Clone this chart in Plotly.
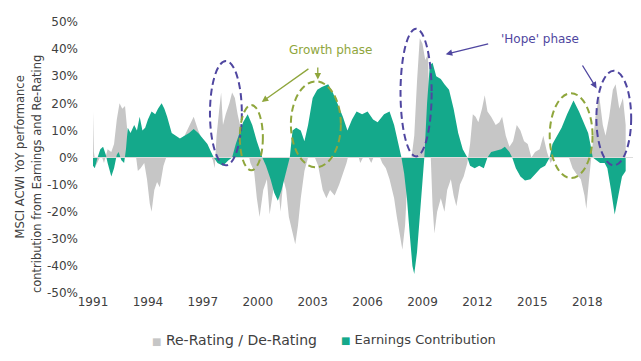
import plotly.graph_objects as go

# ---------------- data ----------------
earn_years = [1991.00, 1991.10, 1991.25, 1991.40, 1991.55, 1991.70, 1991.80, 1992.00, 1992.15, 1992.30,
              1992.40, 1992.55, 1992.70, 1992.80, 1992.90, 1993.05, 1993.25, 1993.40, 1993.55, 1993.70,
              1993.85, 1994.00, 1994.20, 1994.40, 1994.55, 1994.75, 1994.90, 1995.05, 1995.30, 1995.50,
              1995.75, 1996.00, 1996.25, 1996.50, 1996.75, 1997.00, 1997.25, 1997.45, 1997.60, 1997.80,
              1998.10, 1998.40, 1998.60, 1998.80, 1999.00, 1999.20, 1999.45, 1999.70, 1999.95, 2000.25,
              2000.45, 2000.70, 2000.90, 2001.10, 2001.30, 2001.55, 2001.75, 2001.90, 2002.10, 2002.35,
              2002.55, 2002.75, 2003.00, 2003.25, 2003.50, 2003.85, 2004.10, 2004.35, 2004.65, 2004.90,
              2005.15, 2005.40, 2005.70, 2006.00, 2006.30, 2006.55, 2006.90, 2007.20, 2007.45, 2007.65,
              2007.85, 2008.00, 2008.15, 2008.30, 2008.45, 2008.55, 2008.70, 2008.85, 2009.00, 2009.10,
              2009.25, 2009.40, 2009.55, 2009.75, 2010.00, 2010.20, 2010.45, 2010.70, 2010.95, 2011.20,
              2011.45, 2011.60, 2011.85, 2012.10, 2012.35, 2012.55, 2012.75, 2013.00, 2013.30, 2013.50,
              2013.75, 2013.90, 2014.10, 2014.35, 2014.60, 2014.90, 2015.20, 2015.45, 2015.70, 2015.95,
              2016.10, 2016.35, 2016.60, 2016.90, 2017.25, 2017.55, 2017.80, 2018.05, 2018.20, 2018.30,
              2018.50, 2018.70, 2018.95, 2019.10, 2019.30, 2019.50, 2019.70, 2019.90, 2020.10]
earn_vals = [-3, -4, 0, 3, 4, 1, -2, -7, -4, 1,
             2, -1, -2, 3, 11, 9, 12, 10, 15, 10,
             11, 14, 17, 16, 18, 20, 18, 15, 9, 8,
             7, 8, 9, 10.5, 9, 7, 5, 2, 0, -2,
             -3, -1, 0, 5, 9, 13, 16, 12, 6, 0,
             -3, -8, -13, -16, -12, -5, 0, 10, 11, 10,
             6, 12, 22, 25, 26, 27, 24, 20, 15, 10,
             14, 17, 16, 17, 14, 13, 16, 17, 12, 6,
             0, -6, -15, -28, -40, -43, -35, -22, -10, 0,
             20, 34, 35, 30, 29, 27, 25, 18, 9, 3,
             0, -3, -4, -3, -4, 0, 2, 2.5, 3, 4,
             2, 0, -4, -7, -8.5, -8, -6, -4, -3, 0,
             5, 8, 11, 16, 21, 17, 13, 9, 4, 0,
             -1, -2, -2, -4, -12, -21, -14, -7, -5]

rerate_years = [1991.00, 1991.05, 1991.15, 1991.30, 1991.45, 1991.60, 1991.80, 1992.00, 1992.15, 1992.30,
                1992.45, 1992.60, 1992.75, 1992.90, 1993.10, 1993.30, 1993.45, 1993.60, 1993.80, 1993.95,
                1994.10, 1994.20, 1994.35, 1994.50, 1994.65, 1994.85, 1995.00, 1995.30, 1995.60, 1996.00,
                1996.30, 1996.50, 1996.75, 1997.00, 1997.30, 1997.55, 1997.65, 1997.75, 1997.90, 1998.00,
                1998.10, 1998.25, 1998.45, 1998.60, 1998.75, 1998.90, 1999.10, 1999.40, 1999.60, 1999.80,
                1999.95, 2000.10, 2000.30, 2000.50, 2000.65, 2000.85, 2001.10, 2001.25, 2001.40, 2001.55,
                2001.70, 2001.90, 2002.05, 2002.20, 2002.35, 2002.55, 2002.75, 2003.00, 2003.30, 2003.55,
                2003.75, 2003.95, 2004.20, 2004.45, 2004.65, 2004.85, 2005.10, 2005.40, 2005.60, 2005.90,
                2006.20, 2006.50, 2006.80, 2007.00, 2007.20, 2007.45, 2007.60, 2007.75, 2007.90, 2008.05,
                2008.20, 2008.40, 2008.55, 2008.70, 2008.85, 2009.00, 2009.15, 2009.30, 2009.40, 2009.55,
                2009.65, 2009.80, 2010.00, 2010.20, 2010.35, 2010.55, 2010.70, 2010.85, 2011.05, 2011.25,
                2011.45, 2011.60, 2011.75, 2011.90, 2012.05, 2012.25, 2012.40, 2012.55, 2012.75, 2013.00,
                2013.20, 2013.35, 2013.55, 2013.75, 2013.95, 2014.15, 2014.35, 2014.55, 2014.75, 2014.95,
                2015.15, 2015.40, 2015.60, 2015.80, 2016.00, 2016.30, 2016.60, 2016.90, 2017.20, 2017.40,
                2017.65, 2017.85, 2017.95, 2018.10, 2018.25, 2018.45, 2018.65, 2018.85, 2019.00, 2019.20,
                2019.40, 2019.55, 2019.75, 2019.95, 2020.10]
rerate_vals = [17, 2, -3, -1, 1, -2, 3, 2, 5, 14,
               20, 18, 19, 8, 6, 3, -5, -4, -2, -8,
               -17, -20, -12, -9, -11, -3, 0, 5, 6, 8,
               12, 15, 10, 6, 3, -1, -4, 8, 18, 24,
               12, 16, 20, 24, 22, 16, 10, 4, -2, -5,
               -15, -22, -12, -8, -21, -12, -10, -20, -8, -12,
               -22, -28, -32, -25, -15, -5, 0, 2, -3, -12,
               -15, -12, -14, -10, -6, -2, 5, 3, -2, 2,
               -2, 3, -2, -4, -8, -15, -22, -28, -34, -25,
               -5, 0, 8, 28, 44, 42, 36, 38, 10, -18,
               -28, -20, -15, -20, -12, -8, -14, -18, -10, -7,
               -2, 5, 16, 15, 13, 18, 23, 17, 15, 12,
               13, 15, 8, 4, 6, 12, 10, 6, 5, 0,
               2, 3, 8, 2, -2, 2, 4, 2, -4, -6,
               -8, -14, -19, -8, 3, 15, 23, 12, 8, 15,
               25, 27, 18, 22, 12]

y_ticks = [-50, -40, -30, -20, -10, 0, 10, 20, 30, 40, 50]
x_ticks = [1991, 1994, 1997, 2000, 2003, 2006, 2009, 2012, 2015, 2018]

series_names = ["Re-Rating / De-Rating", "Earnings Contribution"]

# annotation geometry (x0, x1, y0, y1) in data units
purple_ellipses = [(1997.39, 1999.13, -2.9, 35.6), (2007.8, 2009.5, 0.4, 47.5), (2018.5, 2020.4, -2.9, 32.0)]
green_ellipses = [(1999.02, 2000.28, -4.7, 19.4), (2001.81, 2004.54, -3.6, 28.1), (2015.95, 2018.29, -7.6, 23.7)]

GREY = "#c6c6c6"
TEAL = "#14a98b"
PURPLE = "#4f46a0"
OLIVE = "#8fa63c"
TXT = "#404040"
FONT = "DejaVu Sans"
DASH = "7px,4px"

fig = go.Figure()
fig.add_trace(go.Scatter(x=rerate_years, y=rerate_vals, fill="tozeroy", mode="lines",
                         line=dict(width=0, color=GREY), fillcolor=GREY, name=series_names[0],
                         showlegend=False, hoverinfo="skip"))
fig.add_trace(go.Scatter(x=earn_years, y=earn_vals, fill="tozeroy", mode="lines",
                         line=dict(width=0, color=TEAL), fillcolor=TEAL, name=series_names[1],
                         showlegend=False, hoverinfo="skip"))

shapes = [dict(type="line", xref="paper", x0=0, x1=1, yref="y", y0=0, y1=0,
               line=dict(color="#dcdcdc", width=1), layer="above")]
for (x0, x1, y0, y1) in purple_ellipses:
    shapes.append(dict(type="circle", xref="x", yref="y", x0=x0, x1=x1, y0=y0, y1=y1,
                       line=dict(color=PURPLE, width=2, dash=DASH), layer="above"))
for (x0, x1, y0, y1) in green_ellipses:
    shapes.append(dict(type="circle", xref="x", yref="y", x0=x0, x1=x1, y0=y0, y1=y1,
                       line=dict(color=OLIVE, width=2, dash=DASH), layer="above"))

annotations = [
    dict(text="Growth phase", x=2003.99, y=39.6, xref="x", yref="y", showarrow=False,
         font=dict(family=FONT, size=12, color=OLIVE)),
    dict(text="'Hope' phase", x=2015.4, y=43.9, xref="x", yref="y", showarrow=False,
         font=dict(family=FONT, size=12, color=PURPLE)),
    dict(text="", x=2000.22, y=20.5, ax=2002.85, ay=33.1, xref="x", yref="y", axref="x", ayref="y",
         showarrow=True, arrowhead=2, arrowsize=1, arrowwidth=1.3, arrowcolor=OLIVE),
    dict(text="", x=2003.28, y=28.8, ax=2003.28, ay=33.8, xref="x", yref="y", axref="x", ayref="y",
         showarrow=True, arrowhead=2, arrowsize=1, arrowwidth=1.3, arrowcolor=OLIVE),
    dict(text="", x=2010.27, y=38.1, ax=2012.67, ay=42.1, xref="x", yref="y", axref="x", ayref="y",
         showarrow=True, arrowhead=2, arrowsize=1, arrowwidth=1.3, arrowcolor=PURPLE),
    dict(text="", x=2018.51, y=25.5, ax=2017.69, ay=34.5, xref="x", yref="y", axref="x", ayref="y",
         showarrow=True, arrowhead=2, arrowsize=1, arrowwidth=1.3, arrowcolor=PURPLE),
    dict(text="MSCI ACWI YoY performance", textangle=-90, xref="paper", yref="paper",
         x=-0.137, y=0.5, xanchor="center", yanchor="middle", showarrow=False,
         font=dict(family=FONT, size=11.5, color=TXT)),
    dict(text="contribution from Earnings and Re-Rating", textangle=-90, xref="paper", yref="paper",
         x=-0.105, y=0.44, xanchor="center", yanchor="middle", showarrow=False,
         font=dict(family=FONT, size=11.5, color=TXT)),
]
# legend drawn as text with coloured square glyphs
for name, col, lx, fs in zip(series_names, [GREY, TEAL], [0.105, 0.455], [14, 13]):
    annotations.append(dict(
        text=f"<span style='color:{col};font-size:10px'>■</span> {name}",
        xref="paper", yref="paper", x=lx, y=-0.173, xanchor="left", yanchor="middle",
        showarrow=False, font=dict(family=FONT, size=fs, color=TXT)))

fig.update_layout(
    width=633, height=353,
    margin=dict(l=85, r=8, t=7, b=68),
    paper_bgcolor="white", plot_bgcolor="white",
    font=dict(family=FONT, size=12, color=TXT),
    showlegend=False,
    shapes=shapes,
    annotations=annotations,
)
fig.update_xaxes(range=[1991, 2020.5], tickmode="array", tickvals=x_ticks,
                 ticktext=[str(v) for v in x_ticks], showgrid=False, zeroline=False,
                 showline=False, ticks="", tickfont=dict(size=12, color=TXT))
fig.update_yaxes(range=[-50, 50], tickmode="array", tickvals=y_ticks,
                 ticktext=[f"{v}%" for v in y_ticks], showgrid=False, zeroline=False,
                 showline=False, ticks="", ticklabelstandoff=14,
                 tickfont=dict(size=12, color=TXT))

fig.write_html("out.html")
